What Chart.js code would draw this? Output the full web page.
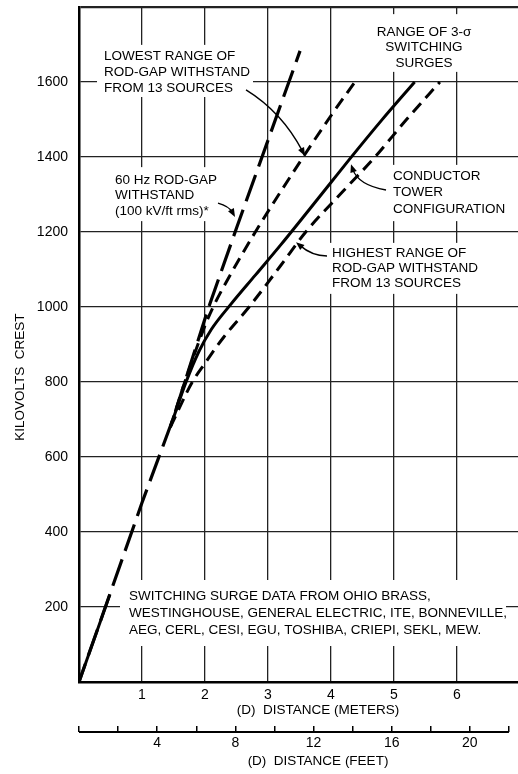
<!DOCTYPE html>
<html>
<head>
<meta charset="utf-8">
<script src="https://cdn.jsdelivr.net/npm/chart.js@4/dist/chart.umd.min.js"></script>
<style>
html, body { margin: 0; padding: 0; background: #fff; overflow: hidden; }
</style>
</head>
<body>
<canvas id="chart" width="560" height="774"></canvas>
<script>
// values: distance in meters, crest voltage in kV
var meterTicks = [1, 2, 3, 4, 5, 6];
var feetTicks = [4, 8, 12, 16, 20];
var kvTicks = [200, 400, 600, 800, 1000, 1200, 1400, 1600];

var baseX = [0, 0.49];
var baseKV = [0, 233];
var hz60X = [0, 1.0, 1.5, 2.05, 2.5, 3.51];
var hz60KV = [0, 478, 705, 995, 1210, 1683];
var lowX = [1.45, 1.68, 2.0, 2.13, 2.35, 2.8, 3.56, 4.0, 4.38];
var lowKV = [680, 800, 950, 1000, 1070, 1200, 1400, 1510, 1600];
var condX = [1.45, 1.7, 1.9, 2.1, 2.4, 2.8, 3.2, 3.6, 4.0, 4.3, 4.8, 5.33];
var condKV = [680, 800, 880, 940, 1005, 1085, 1165, 1248, 1332, 1395, 1497, 1600];
var highX = [1.45, 1.8, 2.0, 2.3, 2.7, 3.2, 3.6, 4.2, 4.7, 5.2, 5.73];
var highKV = [680, 800, 850, 920, 1000, 1110, 1200, 1310, 1400, 1500, 1600];

var fam = "'Liberation Sans', Arial, Helvetica, sans-serif";

function pts(xs, ys) {
    return xs.map(function (x, i) { return { x: x, y: ys[i] }; });
}

// labels on the chart, placed in data units (meters, kV)
var notes = [
    { lines: ['LOWEST RANGE OF', 'ROD-GAP WITHSTAND', 'FROM 13 SOURCES'], x: 0.397, y: 1669, step: 16, align: 'left', box: [0.286, 1699, 2.763, 1560] },
    { lines: ['60 Hz ROD-GAP', 'WITHSTAND', '(100 kV/ft rms)*'], x: 0.572, y: 1339, step: 15.5, align: 'left', box: [0.492, 1373, 2.286, 1229] },
    { lines: ['RANGE OF 3-\u03c3', 'SWITCHING', 'SURGES'], x: 5.478, y: 1733, step: 15.5, align: 'center', box: [4.652, 1781, 6.304, 1627] },
    { lines: ['CONDUCTOR', 'TOWER', 'CONFIGURATION'], x: 4.986, y: 1349, step: 16.5, align: 'left', box: [4.906, 1379, 6.875, 1229] },
    { lines: ['HIGHEST RANGE OF', 'ROD-GAP WITHSTAND', 'FROM 13 SOURCES'], x: 4.017, y: 1144, step: 15, align: 'left', box: [3.922, 1171, 6.431, 1035] },
    { lines: ['SWITCHING SURGE DATA FROM OHIO BRASS,', 'WESTINGHOUSE, GENERAL ELECTRIC, ITE, BONNEVILLE,', 'AEG, CERL, CESI, EGU, TOSHIBA, CRIEPI, SEKL, MEW.'], x: 0.794, y: 229, step: 17, align: 'left', box: [0.651, 272, 6.78, 96] }
];
var arrows = [
    { from: [2.652, 1579], via: [3.223, 1520], to: [3.588, 1403] },
    { from: [2.207, 1277], via: [2.382, 1269], to: [2.477, 1240] },
    { from: [4.875, 1312], via: [4.43, 1325], to: [4.319, 1381] },
    { from: [3.938, 1136], via: [3.7, 1136], to: [3.446, 1173] }
];

var notesPlugin = {
    id: 'notes',
    beforeDatasetsDraw: function (chart) {
        var ctx = chart.ctx, sx = chart.scales.x, sy = chart.scales.y;
        ctx.save();
        ctx.font = '13.5px ' + fam;
        ctx.textBaseline = 'middle';
        notes.forEach(function (n) {
            var x1 = sx.getPixelForValue(n.box[0]), y1 = sy.getPixelForValue(n.box[1]);
            var x2 = sx.getPixelForValue(n.box[2]), y2 = sy.getPixelForValue(n.box[3]);
            ctx.fillStyle = '#fff';
            ctx.fillRect(x1, y1, x2 - x1, y2 - y1);
            ctx.fillStyle = '#000';
            ctx.textAlign = n.align;
            var tx = sx.getPixelForValue(n.x), ty = sy.getPixelForValue(n.y);
            n.lines.forEach(function (s, i) { ctx.fillText(s, tx, ty + i * n.step); });
        });
        ctx.restore();
    },
    afterDatasetsDraw: function (chart) {
        var ctx = chart.ctx, sx = chart.scales.x, sy = chart.scales.y;
        ctx.save();
        ctx.strokeStyle = '#000';
        ctx.fillStyle = '#000';
        ctx.lineWidth = 1.4;
        arrows.forEach(function (a) {
            var ax = sx.getPixelForValue(a.from[0]), ay = sy.getPixelForValue(a.from[1]);
            var cx = sx.getPixelForValue(a.via[0]), cy = sy.getPixelForValue(a.via[1]);
            var bx = sx.getPixelForValue(a.to[0]), by = sy.getPixelForValue(a.to[1]);
            var ang = Math.atan2(by - cy, bx - cx);
            ctx.beginPath();
            ctx.moveTo(ax, ay);
            ctx.quadraticCurveTo(cx, cy, bx - 5 * Math.cos(ang), by - 5 * Math.sin(ang));
            ctx.stroke();
            ctx.beginPath();
            ctx.moveTo(bx, by);
            ctx.lineTo(bx - 9 * Math.cos(ang - 0.38), by - 9 * Math.sin(ang - 0.38));
            ctx.lineTo(bx - 9 * Math.cos(ang + 0.38), by - 9 * Math.sin(ang + 0.38));
            ctx.closePath();
            ctx.fill();
        });
        ctx.restore();
    },
    afterDraw: function (chart) {
        var ctx = chart.ctx, sy = chart.scales.y, f = chart.scales.x2;
        ctx.save();
        // y axis title
        ctx.fillStyle = '#000';
        ctx.font = '13.5px ' + fam;
        ctx.textAlign = 'center';
        ctx.textBaseline = 'middle';
        ctx.translate(sy.left + 20, sy.getPixelForValue(813));
        ctx.rotate(-Math.PI / 2);
        ctx.fillText('KILOVOLTS  CREST', 0, 0);
        ctx.restore();
        // feet scale line, 0 to 22 ft
        ctx.save();
        ctx.strokeStyle = '#000';
        ctx.lineWidth = 2;
        ctx.beginPath();
        ctx.moveTo(f.getPixelForValue(0), f.top);
        ctx.lineTo(f.getPixelForValue(22), f.top);
        ctx.stroke();
        ctx.restore();
    }
};

Chart.defaults.font.family = fam;
Chart.defaults.color = '#000';

var lineBase = { borderColor: '#000', showLine: true, pointRadius: 0, fill: false };

function fitX(h) {
    return function (s) { s.height = h; s.paddingLeft = 0; s.paddingRight = 0; };
}

var ctx = document.getElementById('chart').getContext('2d');
var chart = new Chart(ctx, {
    type: 'scatter',
    data: {
        datasets: [
            Object.assign({ label: 'base', data: pts(baseX, baseKV), borderWidth: 3 }, lineBase),
            Object.assign({ label: '60 Hz rod-gap withstand', data: pts(hz60X, hz60KV), borderWidth: 3.2, borderDash: [28, 9], borderDashOffset: 9 }, lineBase),
            Object.assign({ label: 'lowest range', data: pts(lowX, lowKV), borderWidth: 3, borderDash: [12, 7], cubicInterpolationMode: 'monotone' }, lineBase),
            Object.assign({ label: 'conductor tower', data: pts(condX, condKV), borderWidth: 3, cubicInterpolationMode: 'monotone' }, lineBase),
            Object.assign({ label: 'highest range', data: pts(highX, highKV), borderWidth: 3, borderDash: [12, 7], cubicInterpolationMode: 'monotone' }, lineBase)
        ]
    },
    options: {
        responsive: false,
        animation: false,
        devicePixelRatio: 1,
        layout: { padding: { top: 7, right: 3, left: 0, bottom: 0 } },
        plugins: { legend: { display: false }, tooltip: { enabled: false } },
        scales: {
            x: {
                type: 'linear', position: 'bottom', weight: 0,
                min: 0, max: 7.59,
                afterFit: fitX(50),
                ticks: {
                    stepSize: 1, includeBounds: false, padding: 5, maxRotation: 0,
                    font: { size: 14 },
                    callback: function (v) { return meterTicks.indexOf(v) >= 0 ? String(v) : ''; }
                },
                grid: { color: '#222', lineWidth: 1.3, drawTicks: false },
                border: { color: '#000', width: 2.5 },
                title: { display: true, text: '(D)  DISTANCE (METERS)', font: { size: 13.5 }, padding: { top: 0, bottom: 14 } }
            },
            x2: {
                type: 'linear', position: 'bottom', weight: 1,
                min: 0, max: 24.46,
                afterFit: fitX(42),
                ticks: {
                    stepSize: 2, includeBounds: false, padding: 9, maxRotation: 0,
                    font: { size: 14 },
                    callback: function (v) { return feetTicks.indexOf(v) >= 0 ? String(v) : ''; }
                },
                grid: { drawOnChartArea: false, drawTicks: true, tickLength: -6, color: '#000', lineWidth: 1.5 },
                border: { display: false },
                title: { display: true, text: '(D)  DISTANCE (FEET)', font: { size: 13.5 }, padding: { top: 0, bottom: 5 } }
            },
            y: {
                type: 'linear', position: 'left',
                min: 0, max: 1800,
                afterFit: function (s) { s.width = 79; s.paddingTop = 0; s.paddingBottom = 0; },
                ticks: {
                    stepSize: 200, padding: 11,
                    font: { size: 14 },
                    callback: function (v) { return kvTicks.indexOf(v) >= 0 ? String(v) : ''; }
                },
                grid: {
                    color: '#222', drawTicks: false,
                    lineWidth: function (c) { return c.tick && c.tick.value === 1800 ? 2.2 : 1.3; }
                },
                border: { color: '#000', width: 2.5 }
            }
        }
    },
    plugins: [notesPlugin]
});
</script>
</body>
</html>
